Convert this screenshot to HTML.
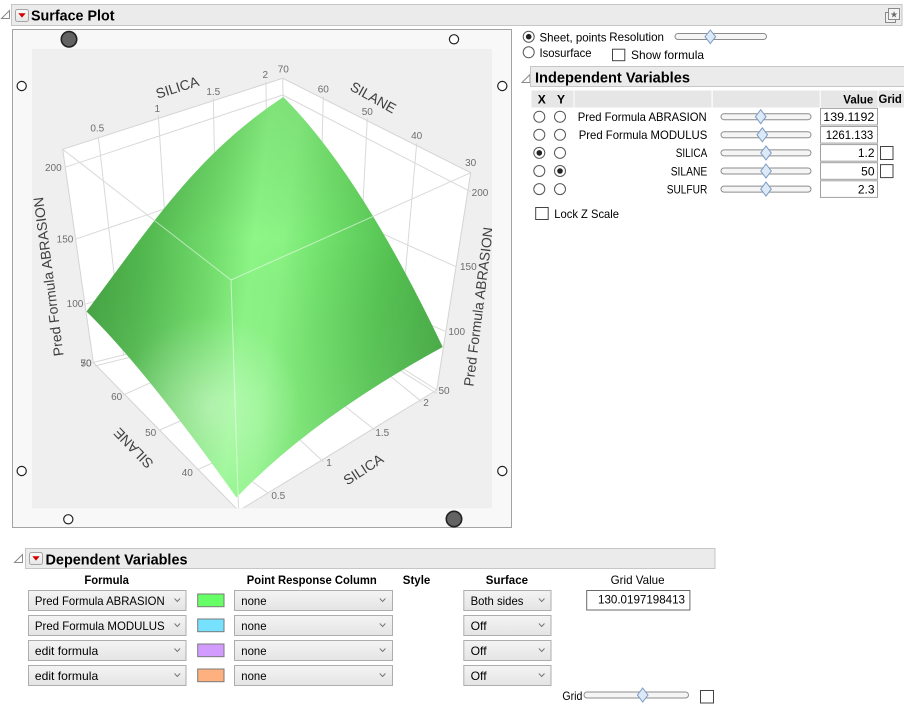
<!DOCTYPE html>
<html>
<head>
<meta charset="utf-8">
<style>
html,body{margin:0;padding:0;background:#fff;}
body{width:904px;height:705px;overflow:hidden;position:relative;}
svg{position:absolute;left:0;top:0;}
text{font-family:"Liberation Sans",sans-serif;}
</style>
</head>
<body>
<svg xmlns="http://www.w3.org/2000/svg" width="904" height="705" viewBox="0 0 904 705">
<defs>
  <clipPath id="pc"><rect x="32" y="49" width="460" height="459.3"/></clipPath>
  <clipPath id="sc"><path d="M283.3,97 Q360.4,174.1 442.7,347 Q311.3,419 236.5,497.5 Q145.1,368.9 86.5,311.5 C156.5,217.7 198.3,153.5 283.3,97 Z"/></clipPath>
  <linearGradient id="hg" gradientUnits="userSpaceOnUse" x1="84" y1="306" x2="445" y2="352">
    <stop offset="0" stop-color="#44a342"/>
    <stop offset="0.15" stop-color="#53b950"/>
    <stop offset="0.33" stop-color="#72dd6c"/>
    <stop offset="0.44" stop-color="#8cf686"/>
    <stop offset="0.52" stop-color="#89f383"/>
    <stop offset="0.63" stop-color="#72e16c"/>
    <stop offset="0.8" stop-color="#57c554"/>
    <stop offset="1" stop-color="#46a944"/>
  </linearGradient>
  <linearGradient id="vg" gradientUnits="userSpaceOnUse" x1="0" y1="97" x2="0" y2="497">
    <stop offset="0" stop-color="#003000" stop-opacity="0.10"/>
    <stop offset="0.35" stop-color="#000000" stop-opacity="0"/>
    <stop offset="0.75" stop-color="#ffffff" stop-opacity="0.06"/>
    <stop offset="1" stop-color="#ffffff" stop-opacity="0.14"/>
  </linearGradient>
  <radialGradient id="rg" gradientUnits="userSpaceOnUse" cx="210" cy="405" r="90">
    <stop offset="0" stop-color="#ffffff" stop-opacity="0.36"/>
    <stop offset="0.6" stop-color="#ffffff" stop-opacity="0.14"/>
    <stop offset="1" stop-color="#ffffff" stop-opacity="0"/>
  </radialGradient>
  <linearGradient id="cg" x1="0" y1="0" x2="0" y2="1">
    <stop offset="0" stop-color="#f4f4f4"/>
    <stop offset="1" stop-color="#e4e4e4"/>
  </linearGradient>
  <linearGradient id="ig" x1="0" y1="0" x2="0" y2="1">
    <stop offset="0" stop-color="#fafafa"/>
    <stop offset="1" stop-color="#e6e6e6"/>
  </linearGradient>
</defs>

<!-- ===== Surface Plot header ===== -->
<polygon points="1.5,18.5 9.5,10.5 9.5,18.5" fill="#fff" stroke="#8a8a8a"/>
<rect x="11.5" y="4.5" width="890.5" height="21" fill="#ebebeb" stroke="#c6c6c6"/>
<rect x="15.5" y="9.5" width="13" height="12" rx="2" fill="url(#ig)" stroke="#a5a5a5"/>
<polygon points="18.3,13.3 25.7,13.3 22,17.6" fill="#d30000"/>
<text x="31" y="20.5" font-size="14.5" font-weight="bold" fill="#000" textLength="83.5" lengthAdjust="spacingAndGlyphs">Surface Plot</text>
<rect x="885.5" y="12.5" width="10" height="10" fill="#f0f0f0" stroke="#8a8a8a"/>
<rect x="888.5" y="8.5" width="11" height="11" fill="#f4f4f4" stroke="#8a8a8a"/>
<text x="894" y="17.5" font-size="9" text-anchor="middle" fill="#6a6a6a">★</text>

<!-- ===== Plot frame ===== -->
<rect x="12.5" y="29.5" width="499" height="498" fill="#f8f8f8" stroke="#a3a3a3"/>
<rect x="32" y="49" width="460" height="459.3" fill="#efefef"/>

<g clip-path="url(#pc)">
  <polygon points="62.7,149.3 282.7,78.3 470.7,172.7 436.7,390 238.6,510.8 93.3,362.5" fill="#ffffff" stroke="#d4d4d4"/>
  <g stroke="#d9d9d9" stroke-width="1" fill="none">
    <line x1="65" y1="167.3" x2="282.7" y2="95"/>
    <line x1="75" y1="239.3" x2="285" y2="168"/>
    <line x1="85" y1="304.3" x2="287" y2="240"/>
    <line x1="93.3" y1="362.5" x2="290" y2="313"/>
    <line x1="95" y1="366" x2="290" y2="317"/>
    <line x1="98.3" y1="136.7" x2="123.5" y2="355.8"/>
    <line x1="158.3" y1="115" x2="172.9" y2="340"/>
    <line x1="213.3" y1="98.3" x2="218" y2="330"/>
    <line x1="266" y1="81.7" x2="268" y2="320"/>
    <line x1="282.7" y1="78.3" x2="287" y2="300"/>
    <line x1="282.7" y1="95" x2="470.7" y2="191.7"/>
    <line x1="456" y1="266.7" x2="285" y2="190"/>
    <line x1="446.5" y1="331.7" x2="287" y2="265"/>
    <line x1="436.7" y1="390" x2="290" y2="297"/>
    <line x1="436.7" y1="393.5" x2="290" y2="301"/>
    <line x1="323.3" y1="96.7" x2="318" y2="300"/>
    <line x1="367.3" y1="118.3" x2="358" y2="300"/>
    <line x1="416.7" y1="143.3" x2="403" y2="300"/>
    <line x1="123.3" y1="395" x2="290" y2="320"/>
    <line x1="160" y1="430" x2="300" y2="367"/>
    <line x1="196.7" y1="470" x2="320" y2="415"/>
    <line x1="268.3" y1="493.3" x2="200" y2="443"/>
    <line x1="323.3" y1="461.7" x2="250" y2="393"/>
    <line x1="375" y1="430" x2="290" y2="363"/>
    <line x1="421.7" y1="401.7" x2="330" y2="327"/>
    <line x1="62.7" y1="149.3" x2="231" y2="280"/>
    <line x1="231" y1="280" x2="470.7" y2="172.7"/>
    <line x1="231" y1="280" x2="238.6" y2="510.8"/>
  </g>

  <g clip-path="url(#sc)">
    <rect x="80" y="90" width="370" height="415" fill="url(#hg)"/>
    <rect x="80" y="90" width="370" height="415" fill="url(#vg)"/>
    <rect x="80" y="90" width="370" height="415" fill="url(#rg)"/>
    <g stroke="#ffffff" stroke-opacity="0.55" stroke-width="1">
      <line x1="62.7" y1="149.3" x2="231" y2="280"/>
      <line x1="231" y1="280" x2="470.7" y2="172.7"/>
      <line x1="231" y1="280" x2="238.6" y2="510.8"/>
    </g>
  </g>

  <g font-size="10" fill="#6e6e6e" text-anchor="middle" dominant-baseline="central">
    <text x="97.3" y="129">0.5</text>
    <text x="157.3" y="109.3">1</text>
    <text x="213.3" y="92.3">1.5</text>
    <text x="265.3" y="75.7">2</text>
    <text x="283.3" y="70">70</text>
    <text x="323.3" y="90">60</text>
    <text x="367.3" y="112.3">50</text>
    <text x="416.7" y="136.7">40</text>
    <text x="470.7" y="163.3">30</text>
    <text x="480" y="193.3">200</text>
    <text x="468.3" y="267.3">150</text>
    <text x="456.7" y="332.7">100</text>
    <text x="444" y="391.7">50</text>
    <text x="53.3" y="168.3">200</text>
    <text x="65" y="240">150</text>
    <text x="75" y="304.3">100</text>
    <text x="86" y="364">50</text>
    <text x="86" y="364">70</text>
    <text x="116.7" y="397.3">60</text>
    <text x="150.7" y="433.3">50</text>
    <text x="187.3" y="473.3">40</text>
    <text x="278.3" y="496.7">0.5</text>
    <text x="329" y="463.3">1</text>
    <text x="382.3" y="433.3">1.5</text>
    <text x="426" y="403.3">2</text>
  </g>
  <g font-size="14" fill="#404040" text-anchor="middle" dominant-baseline="central">
    <text transform="translate(177.3,87.3) rotate(-17.5)">SILICA</text>
    <text transform="translate(373.3,97.3) rotate(29)">SILANE</text>
    <text transform="translate(48.3,276.7) rotate(-97.4)">Pred Formula ABRASION</text>
    <text transform="translate(478.3,306.7) rotate(-82.9)">Pred Formula ABRASION</text>
    <text transform="translate(133.3,448.3) rotate(226)">SILANE</text>
    <text transform="translate(363.3,469.3) rotate(-33)">SILICA</text>
  </g>
</g>

<g stroke="#222" stroke-width="1.2">
  <circle cx="69" cy="39.3" r="7.7" fill="#636363" stroke-width="1.6"/>
  <circle cx="454" cy="519" r="7.7" fill="#636363" stroke-width="1.6"/>
  <circle cx="454" cy="39.3" r="4.6" fill="#fff"/>
  <circle cx="21.7" cy="86" r="4.6" fill="#fff"/>
  <circle cx="502.3" cy="86" r="4.6" fill="#fff"/>
  <circle cx="21.7" cy="471" r="4.6" fill="#fff"/>
  <circle cx="502.3" cy="471" r="4.6" fill="#fff"/>
  <circle cx="68.3" cy="519.3" r="4.6" fill="#fff"/>
</g>

<!-- ===== Right controls ===== -->
<circle cx="528.7" cy="36.7" r="5.5" fill="#fff" stroke="#555"/>
<circle cx="528.7" cy="36.7" r="2.8" fill="#222"/>
<text x="539.5" y="41.3" font-size="12" fill="#000" textLength="67" lengthAdjust="spacingAndGlyphs">Sheet, points</text>
<text x="609.3" y="41" font-size="12" fill="#000" textLength="54.7" lengthAdjust="spacingAndGlyphs">Resolution</text>
<rect x="675" y="33.5" width="91.5" height="6" rx="3" fill="#f5f5f5" stroke="#8c8c8c"/>
<polygon points="710.3,30 715.6,36.7 710.3,43.6 705,36.7" fill="#dce9f7" stroke="#7d9bc2"/>
<circle cx="528.7" cy="52.3" r="5.5" fill="#fff" stroke="#555"/>
<text x="539.5" y="56.8" font-size="12" fill="#000" textLength="52" lengthAdjust="spacingAndGlyphs">Isosurface</text>
<rect x="612.5" y="49.2" width="12.3" height="11.5" fill="#fff" stroke="#444"/>
<text x="631" y="59" font-size="12" fill="#000" textLength="73" lengthAdjust="spacingAndGlyphs">Show formula</text>

<polygon points="522,82.5 530,74.5 530,82.5" fill="#fff" stroke="#8a8a8a"/>
<rect x="530.5" y="66.5" width="375" height="20" fill="#ebebeb" stroke="#c6c6c6"/>
<text x="535" y="82.3" font-size="14.5" font-weight="bold" fill="#000" textLength="155" lengthAdjust="spacingAndGlyphs">Independent Variables</text>

<g fill="#e6e6e6">
  <rect x="531.5" y="90.5" width="42" height="17"/>
  <rect x="574.5" y="90.5" width="137" height="17"/>
  <rect x="712.7" y="90.5" width="107" height="17"/>
  <rect x="820.7" y="90.5" width="57" height="17"/>
  <rect x="878.5" y="90.5" width="25.5" height="17"/>
</g>
<g font-size="12" font-weight="bold" fill="#000">
  <text x="541.7" y="103.3" text-anchor="middle">X</text>
  <text x="561" y="103.3" text-anchor="middle">Y</text>
  <text x="843.3" y="103.3" textLength="30" lengthAdjust="spacingAndGlyphs">Value</text>
  <text x="878.5" y="103" textLength="23.3" lengthAdjust="spacingAndGlyphs">Grid</text>
</g>

<g font-size="12" fill="#000">
  <circle cx="539.3" cy="116.7" r="5.5" fill="#fff" stroke="#555"/>
  <circle cx="560" cy="116.7" r="5.5" fill="#fff" stroke="#555"/>
  <text x="577.7" y="121" textLength="129" lengthAdjust="spacingAndGlyphs">Pred Formula ABRASION</text>
  <rect x="721" y="113.7" width="90" height="6" rx="3" fill="#f5f5f5" stroke="#8c8c8c"/>
  <polygon points="760.7,109.7 766,116.7 760.7,123.7 755.4,116.7" fill="#dce9f7" stroke="#7d9bc2"/>
  <rect x="820.5" y="108.4" width="57" height="16.6" fill="#fff" stroke="#a0a0a0"/>
  <text x="823.3" y="121" textLength="51" lengthAdjust="spacingAndGlyphs">139.1192</text>

  <circle cx="539.3" cy="134.8" r="5.5" fill="#fff" stroke="#555"/>
  <circle cx="560" cy="134.8" r="5.5" fill="#fff" stroke="#555"/>
  <text x="578.7" y="139.1" textLength="128.6" lengthAdjust="spacingAndGlyphs">Pred Formula MODULUS</text>
  <rect x="721" y="131.8" width="90" height="6" rx="3" fill="#f5f5f5" stroke="#8c8c8c"/>
  <polygon points="762.3,127.8 767.6,134.8 762.3,141.8 757,134.8" fill="#dce9f7" stroke="#7d9bc2"/>
  <rect x="820.5" y="126.5" width="57" height="16.6" fill="#fff" stroke="#a0a0a0"/>
  <text x="825.7" y="139.1" textLength="47.6" lengthAdjust="spacingAndGlyphs">1261.133</text>

  <circle cx="539.3" cy="152.9" r="5.5" fill="#fff" stroke="#555"/>
  <circle cx="539.3" cy="152.9" r="2.8" fill="#222"/>
  <circle cx="560" cy="152.9" r="5.5" fill="#fff" stroke="#555"/>
  <text x="675.7" y="157.2" textLength="31.6" lengthAdjust="spacingAndGlyphs">SILICA</text>
  <rect x="721" y="149.9" width="90" height="6" rx="3" fill="#f5f5f5" stroke="#8c8c8c"/>
  <polygon points="766,145.9 771.3,152.9 766,159.9 760.7,152.9" fill="#dce9f7" stroke="#7d9bc2"/>
  <rect x="820.5" y="144.6" width="57" height="16.6" fill="#fff" stroke="#a0a0a0"/>
  <text x="874.5" y="157.2" text-anchor="end">1.2</text>
  <rect x="880.5" y="146.5" width="12.5" height="13" fill="#fff" stroke="#444"/>

  <circle cx="539.3" cy="171" r="5.5" fill="#fff" stroke="#555"/>
  <circle cx="560" cy="171" r="5.5" fill="#fff" stroke="#555"/>
  <circle cx="560" cy="171" r="2.8" fill="#222"/>
  <text x="670.7" y="175.3" textLength="36.6" lengthAdjust="spacingAndGlyphs">SILANE</text>
  <rect x="721" y="168" width="90" height="6" rx="3" fill="#f5f5f5" stroke="#8c8c8c"/>
  <polygon points="766,164 771.3,171 766,178 760.7,171" fill="#dce9f7" stroke="#7d9bc2"/>
  <rect x="820.5" y="162.7" width="57" height="16.6" fill="#fff" stroke="#a0a0a0"/>
  <text x="874.5" y="175.3" text-anchor="end">50</text>
  <rect x="880.5" y="164.6" width="12.5" height="13" fill="#fff" stroke="#444"/>

  <circle cx="539.3" cy="189.1" r="5.5" fill="#fff" stroke="#555"/>
  <circle cx="560" cy="189.1" r="5.5" fill="#fff" stroke="#555"/>
  <text x="666.7" y="193.4" textLength="40.6" lengthAdjust="spacingAndGlyphs">SULFUR</text>
  <rect x="721" y="186.1" width="90" height="6" rx="3" fill="#f5f5f5" stroke="#8c8c8c"/>
  <polygon points="766,182.1 771.3,189.1 766,196.1 760.7,189.1" fill="#dce9f7" stroke="#7d9bc2"/>
  <rect x="820.5" y="180.8" width="57" height="16.6" fill="#fff" stroke="#a0a0a0"/>
  <text x="874.5" y="193.4" text-anchor="end">2.3</text>

  <rect x="535.7" y="207.5" width="12.5" height="12" fill="#fff" stroke="#444"/>
  <text x="554.3" y="218" textLength="64.7" lengthAdjust="spacingAndGlyphs">Lock Z Scale</text>
</g>

<!-- ===== Dependent Variables ===== -->
<polygon points="14.5,562.5 22.5,554.5 22.5,562.5" fill="#fff" stroke="#8a8a8a"/>
<rect x="25.5" y="548.5" width="689.5" height="20" fill="#ebebeb" stroke="#c6c6c6"/>
<rect x="29.5" y="552.5" width="13" height="12" rx="2" fill="url(#ig)" stroke="#a5a5a5"/>
<polygon points="32.3,556.3 39.7,556.3 36,560.6" fill="#d30000"/>
<text x="45.5" y="564.3" font-size="14.5" font-weight="bold" fill="#000" textLength="142" lengthAdjust="spacingAndGlyphs">Dependent Variables</text>

<g font-size="11.6" fill="#000">
  <text x="84.4" y="584" font-weight="bold" textLength="44.5" lengthAdjust="spacingAndGlyphs">Formula</text>
  <text x="246.8" y="584" font-weight="bold" textLength="130" lengthAdjust="spacingAndGlyphs">Point Response Column</text>
  <text x="402.8" y="584" font-weight="bold" textLength="27.5" lengthAdjust="spacingAndGlyphs">Style</text>
  <text x="485.8" y="584" font-weight="bold" textLength="42.2" lengthAdjust="spacingAndGlyphs">Surface</text>
  <text x="610.6" y="584" textLength="54" lengthAdjust="spacingAndGlyphs">Grid Value</text>
</g>

<g font-size="12" fill="#000">
  <rect x="28.5" y="590.5" width="157.5" height="20" fill="url(#cg)" stroke="#adadad"/>
  <text x="34.9" y="605" textLength="129.8" lengthAdjust="spacingAndGlyphs">Pred Formula ABRASION</text>
  <polyline points="174.5,598.5 177.3,601.5 180.1,598.5" fill="none" stroke="#777"/>
  <rect x="197.7" y="594" width="26.3" height="12.7" fill="#66ff66" stroke="#7a7a7a"/>
  <rect x="234.5" y="590.5" width="158" height="20" fill="url(#cg)" stroke="#adadad"/>
  <text x="241.3" y="605" textLength="25.2" lengthAdjust="spacingAndGlyphs">none</text>
  <polyline points="379.8,598.5 382.6,601.5 385.4,598.5" fill="none" stroke="#777"/>
  <rect x="463.8" y="590.5" width="87.2" height="20" fill="url(#cg)" stroke="#adadad"/>
  <text x="470.6" y="605" textLength="52.8" lengthAdjust="spacingAndGlyphs">Both sides</text>
  <polyline points="538.9,598.5 541.7,601.5 544.5,598.5" fill="none" stroke="#777"/>
  <rect x="586.7" y="590.5" width="103.2" height="19.5" fill="#fff" stroke="#6a6a6a"/>
  <text x="598" y="603.5" textLength="87" lengthAdjust="spacingAndGlyphs">130.0197198413</text>

  <rect x="28.5" y="615.5" width="157.5" height="20" fill="url(#cg)" stroke="#adadad"/>
  <text x="34.9" y="630" textLength="129.8" lengthAdjust="spacingAndGlyphs">Pred Formula MODULUS</text>
  <polyline points="174.5,623.5 177.3,626.5 180.1,623.5" fill="none" stroke="#777"/>
  <rect x="197.7" y="619" width="26.3" height="12.7" fill="#77e2ff" stroke="#7a7a7a"/>
  <rect x="234.5" y="615.5" width="158" height="20" fill="url(#cg)" stroke="#adadad"/>
  <text x="241.3" y="630" textLength="25.2" lengthAdjust="spacingAndGlyphs">none</text>
  <polyline points="379.8,623.5 382.6,626.5 385.4,623.5" fill="none" stroke="#777"/>
  <rect x="463.8" y="615.5" width="87.2" height="20" fill="url(#cg)" stroke="#adadad"/>
  <text x="470.6" y="630" textLength="16" lengthAdjust="spacingAndGlyphs">Off</text>
  <polyline points="538.9,623.5 541.7,626.5 544.5,623.5" fill="none" stroke="#777"/>

  <rect x="28.5" y="640.5" width="157.5" height="20" fill="url(#cg)" stroke="#adadad"/>
  <text x="34.9" y="655" textLength="63.3" lengthAdjust="spacingAndGlyphs">edit formula</text>
  <polyline points="174.5,648.5 177.3,651.5 180.1,648.5" fill="none" stroke="#777"/>
  <rect x="197.7" y="644" width="26.3" height="12.7" fill="#d29cff" stroke="#7a7a7a"/>
  <rect x="234.5" y="640.5" width="158" height="20" fill="url(#cg)" stroke="#adadad"/>
  <text x="241.3" y="655" textLength="25.2" lengthAdjust="spacingAndGlyphs">none</text>
  <polyline points="379.8,648.5 382.6,651.5 385.4,648.5" fill="none" stroke="#777"/>
  <rect x="463.8" y="640.5" width="87.2" height="20" fill="url(#cg)" stroke="#adadad"/>
  <text x="470.6" y="655" textLength="16" lengthAdjust="spacingAndGlyphs">Off</text>
  <polyline points="538.9,648.5 541.7,651.5 544.5,648.5" fill="none" stroke="#777"/>

  <rect x="28.5" y="665.5" width="157.5" height="20" fill="url(#cg)" stroke="#adadad"/>
  <text x="34.9" y="680" textLength="63.3" lengthAdjust="spacingAndGlyphs">edit formula</text>
  <polyline points="174.5,673.5 177.3,676.5 180.1,673.5" fill="none" stroke="#777"/>
  <rect x="197.7" y="669" width="26.3" height="12.7" fill="#ffb07f" stroke="#7a7a7a"/>
  <rect x="234.5" y="665.5" width="158" height="20" fill="url(#cg)" stroke="#adadad"/>
  <text x="241.3" y="680" textLength="25.2" lengthAdjust="spacingAndGlyphs">none</text>
  <polyline points="379.8,673.5 382.6,676.5 385.4,673.5" fill="none" stroke="#777"/>
  <rect x="463.8" y="665.5" width="87.2" height="20" fill="url(#cg)" stroke="#adadad"/>
  <text x="470.6" y="680" textLength="16" lengthAdjust="spacingAndGlyphs">Off</text>
  <polyline points="538.9,673.5 541.7,676.5 544.5,673.5" fill="none" stroke="#777"/>

  <text x="562.4" y="700" textLength="20" lengthAdjust="spacingAndGlyphs">Grid</text>
  <rect x="584" y="692" width="104.5" height="6" rx="3" fill="#f5f5f5" stroke="#8c8c8c"/>
  <polygon points="642.7,688 648,695 642.7,702 637.4,695" fill="#dce9f7" stroke="#7d9bc2"/>
  <rect x="700.5" y="690.5" width="13" height="12.5" fill="#fff" stroke="#444"/>
</g>
</svg>
</body>
</html>
